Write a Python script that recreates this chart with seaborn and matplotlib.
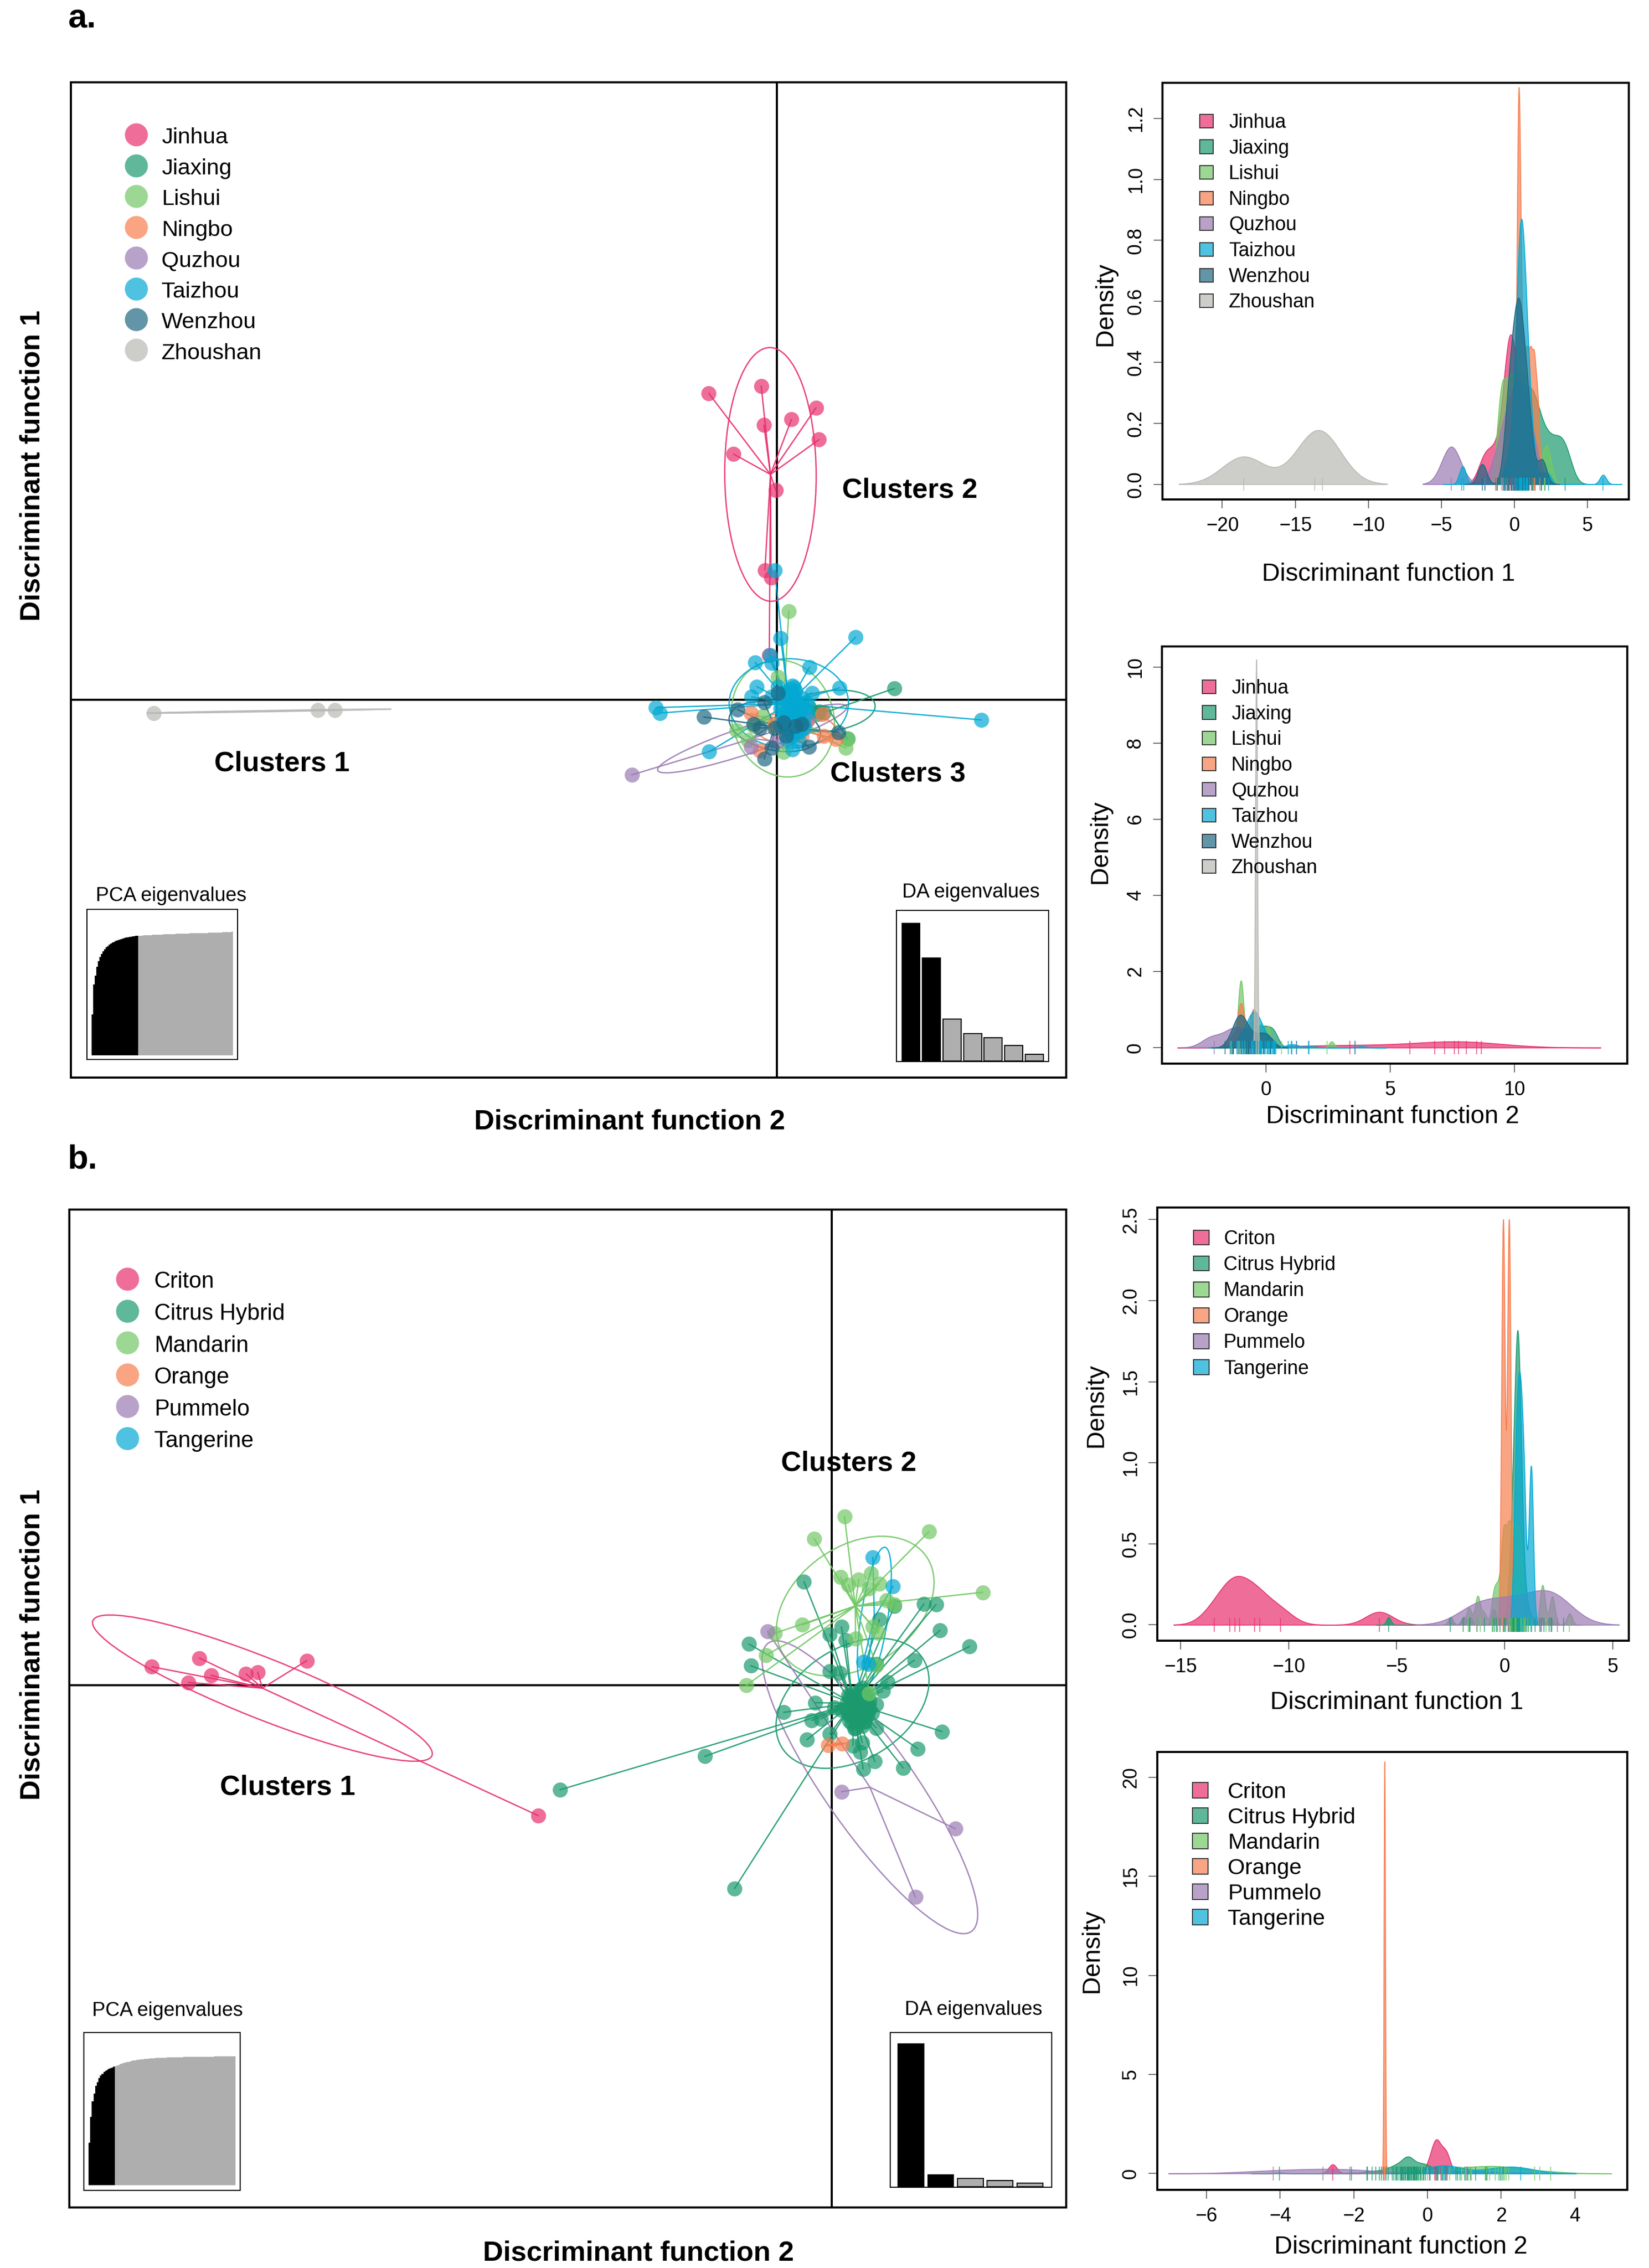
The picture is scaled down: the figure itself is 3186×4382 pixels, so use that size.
import numpy as np
import matplotlib
matplotlib.use("Agg")
import matplotlib.pyplot as plt
from matplotlib.lines import Line2D
from matplotlib.patches import Ellipse, Patch
from matplotlib.colors import to_rgba
import seaborn as sns

W, H = 3186, 4382

# panel a: scores on the two discriminant functions
JINHUA_X = [-2.03, -0.47, 1.16, 0.43, -0.39, 1.25, -1.29, -0.04, -0.36, -0.18, -0.23]
JINHUA_Y = [8.48, 8.68, 8.08, 7.76, 7.60, 7.20, 6.80, 5.80, 3.59, 3.38, 1.24]
JIAXING_X = [3.49, 2.10, 1.26, 0.95, 0.50, 1.40, 1.20]
JIAXING_Y = [0.32, -1.06, -0.32, -0.20, -0.10, -0.35, -0.40]
LISHUI_X = [0.35, -1.20, 2.10, 2.05, -0.87, 0.02, -0.43, 0.46, -0.07, -0.69, 0.19]
LISHUI_Y = [2.46, -0.84, -1.08, -1.33, -1.11, 0.64, -0.45, -1.00, -0.73, -0.73, -1.44]
NINGBO_X = [-0.78, 1.35, 1.39, 1.75, -0.51, 0.55, 0.19, -0.07, 0.73, 0.90]
NINGBO_Y = [-0.37, -0.40, -1.00, -1.08, -1.39, -0.73, -0.78, -0.67, -1.00, -0.56]
QUZHOU_X = [-4.32, -0.77, 0.00, 0.50, 0.90]
QUZHOU_Y = [-2.07, -1.30, -1.15, -0.25, -0.55]
TAIZHOU_X = [2.34, 0.11, 0.97, -0.65, -0.21, -0.16, -0.07, 1.86, -0.60, 1.04, -3.60, -3.48, 6.07, -2.02, -0.76,
             0.46, 0.28, 0.02, 0.81, 0.90, 0.46, 0.19, 0.37, 0.64, 0.81, -0.16, 0.55, 0.11, 0.28,
             0.30, 0.50, 0.10, 0.70, 0.40, 0.60, 0.20, 0.90, 0.35, 0.45, 0.55, 0.65, 0.25, 0.75, 0.15,
             0.80, 0.40, 0.50, 0.60, 0.30, 0.35, 0.50, 0.70, 0.20, 0.45, 0.55, 0.30, 0.60, 0.40, 0.65]
TAIZHOU_Y = [1.74, 1.71, 0.91, 1.04, 1.24, 1.02, 3.59, 0.34, 0.37, 0.20, -0.21, -0.36, -0.55, -1.43, 0.09,
             0.15, 0.20, 0.37, -0.24, -0.35, -1.36, -0.45, -0.18, -0.51, -0.78, 0.09, -0.02, -0.24, -0.67,
             -0.50, 0.10, -0.70, -0.60, 0.30, -0.90, 0.20, -0.10, -0.30, -1.00, 0.25, -0.40, -0.80, 0.05, -0.20,
             -0.65, -0.95, 0.35, -0.75, -0.55, 0.15, -0.25, -0.85, -0.45, 0.40, -0.60, -1.10, -0.15, -0.05, -1.15]
WENZHOU_X = [-2.18, -1.18, -0.38, 0.02, 1.83, 0.95, -0.38, -0.16, 0.28, -0.51, -0.07, 0.55, -0.69, 0.19, 0.73]
WENZHOU_Y = [-0.47, -0.26, -0.07, 0.20, -0.89, -1.30, -1.63, -1.33, -1.00, -0.78, -0.78, -0.73, -0.67, -0.62, -0.67]
ZHOUSHAN_X = [-18.53, -13.66, -13.15]
ZHOUSHAN_Y = [-0.36, -0.28, -0.28]

CITY_NAMES = ["Jinhua", "Jiaxing", "Lishui", "Ningbo", "Quzhou", "Taizhou", "Wenzhou", "Zhoushan"]
CITY_COLORS = ["#E7306E", "#1B9A6E", "#72C865", "#F77E4F", "#9B7BB3", "#03A9D3", "#1F6884", "#B8B9B4"]

# density components (position, mass)
D1_JIAXING_AT = [-0.5, 0.3, 1.0, 1.5, 2.1, 2.6, 3.1, 3.6]
D1_JIAXING_W = [0.07, 0.24, 0.20, 0.16, 0.10, 0.07, 0.09, 0.08]
D1_LISHUI_AT = [-0.9, -0.4, 0.0, 0.4, 0.8, 1.3, 2.1, 2.3]
D1_LISHUI_W = [0.20, 0.15, 0.15, 0.15, 0.15, 0.10, 0.05, 0.05]
D1_NINGBO_AT = [0.3, -0.1, 0.6, 0.85, 1.1, 1.35, 1.6]
D1_NINGBO_W = [0.37, 0.05, 0.10, 0.10, 0.10, 0.10, 0.07]
D1_TAIZHOU_AT = [-3.6, -3.48, 6.07, -0.6, -0.2, 0.1, 0.3, 0.45, 0.6, 0.8, 1.0, 1.3, 1.9, 2.34]
D1_TAIZHOU_W = [1, 1, 1, 1.5, 3, 6, 9, 10, 9, 8, 5, 3, 1, 1]
D1_WENZHOU_AT = [-2.2, -0.5, -0.2, 0.1, 0.3, 0.5, 0.8, 1.1, 1.9]
D1_WENZHOU_W = [1, 2, 3, 3, 3, 3, 2.5, 1.5, 1.2]

D2_JIAXING_AT = [-1.2, -0.8, -0.4, -0.05, 0.3]
D2_JIAXING_W = [0.2, 0.2, 0.2, 0.2, 0.2]
D2_LISHUI_AT = [-1.05, -0.95, -0.5, -0.2, 0.1, 2.65]
D2_LISHUI_W = [0.25, 0.25, 0.17, 0.15, 0.14, 0.04]
D2_NINGBO_AT = [-1.4, -1.0, -0.5, -0.2]
D2_NINGBO_W = [0.10, 0.43, 0.36, 0.10]
D2_QUZHOU_AT = [-2.2, -1.45, -1.1, -0.6]
D2_TAIZHOU_AT = [-1.3, -1.0, -0.8, -0.6, -0.45, -0.3, -0.1, 0.1, 0.3, 1.0, 1.25, 1.85, 3.85]
D2_TAIZHOU_W = [2, 5, 6, 10, 11, 9, 6, 3, 2, 2, 1, 1, 1]
D2_WENZHOU_AT = [-1.5, -1.25, -1.05, -0.85, -0.6, -0.3, -0.05, 0.2]
D2_WENZHOU_W = [0.05, 0.15, 0.20, 0.18, 0.10, 0.10, 0.10, 0.08]
D2_ZHOUSHAN_AT = [-0.40, -0.38, -0.37]

# panel b
CRITON_X = [-13.43, -12.71, -12.49, -12.26, -11.57, -11.34, -10.37, -5.80]
CRITON_Y = [0.37, 0.06, 0.54, 0.20, 0.23, 0.26, 0.49, -2.57]
HYBRID_X = [-0.55, 1.82, 2.06, 1.24, 0.94, 2.14, 2.72, 1.63, -1.64, -1.60, 0.88, 1.10, -0.04, 0.15, -0.04, 0.19,
            0.28, -0.95, -0.33, -0.40, -0.22, -0.49, -0.04, 0.42, 0.60, 0.56, 0.85, 0.62, 1.41, 1.70, 2.18, 1.01,
            0.88, 0.47, 0.51, 0.33, 0.19, 0.74, 0.88, 0.69, 0.51, 0.65, 0.42, 0.05, 0.33, -2.51, -1.92, -5.37,
            0.55, 0.60, 0.45, 0.70, 0.35, 0.62, 0.30,
            0.40, 0.50, 0.60, 0.70, 0.45, 0.55, 0.65, 0.35, 0.50, 0.60, 0.40, 0.55, 0.75, 0.30, 0.45,
            0.65, 0.50, 0.60, 0.70, 0.40, 0.80, 0.35, 0.55, 0.45, 0.65, 0.50, 0.60, 0.75, 0.40, 0.55]
HYBRID_Y = [2.05, 1.61, 1.60, 1.57, 1.30, 1.09, 0.77, 0.50, 0.82, 0.39, 0.42, 0.07, 0.28, 0.25, 1.01, 1.16,
            0.89, -0.53, -0.34, -0.69, -0.66, -1.07, -0.96, -1.19, -1.13, -1.31, -1.50, -1.65, -1.63, -1.25, -0.91, -0.11,
            -0.84, -0.84, -0.60, -0.55, -0.49, -0.49, -0.37, -0.31, -0.43, -0.72, -0.37, -0.43, -0.19, -1.40, -4.01, -2.06,
            -0.55, -0.40, -0.50, -0.60, -0.70, -0.25, -0.35,
            -0.30, -0.45, -0.60, -0.35, -0.55, -0.70, -0.50, -0.60, -0.20, -0.30, -0.75, -0.10, -0.45, -0.50, -0.40,
            -0.25, -0.65, -0.80, -0.20, -0.15, -0.55, -0.25, -0.35, -0.85, -0.70, -0.50, -0.05, -0.30, -0.60, -0.45]
MANDARIN_X = [0.25, -0.35, 1.92, 2.98, -1.30, -1.69, -0.58, -1.13, 0.17, 0.33, 0.53, 0.78, 0.94, 0.74, 1.08, 1.24,
              0.92, 0.47, 0.81, 0.74, 0.88]
MANDARIN_Y = [3.34, 2.90, 3.04, 1.84, 0.60, 0.00, 1.20, 1.03, 2.14, 1.99, 2.09, 2.21, 2.01, 1.92, 1.68, 1.60,
              1.04, 0.92, 1.16, -0.16, 0.39]
ORANGE_X = [-0.07, 0.20]
ORANGE_Y = [-1.18, -1.15]
PUMMELO_X = [-1.27, 0.19, 2.44, 1.65]
PUMMELO_Y = [1.07, -2.10, -2.83, -4.18]
TANGERINE_X = [0.81, 1.21, 0.62, 0.72]
TANGERINE_Y = [2.53, 1.96, 0.46, 0.42]

FRUIT_NAMES = ["Criton", "Citrus Hybrid", "Mandarin", "Orange", "Pummelo", "Tangerine"]
FRUIT_COLORS = ["#E7306E", "#1B9A6E", "#72C865", "#F77E4F", "#9B7BB3", "#03A9D3"]

B1_HYBRID_AT = [-5.37, -2.5, -1.9, -1.6, -0.5, 0.2, 0.35, 0.45, 0.55, 0.62, 0.7, 0.8, 0.9, 1.05, 1.25, 1.7, 2.1]
B1_HYBRID_W = [1, 1, 1, 1, 2, 4, 8, 11, 14, 14, 12, 7, 3, 2, 1, 1, 1]
B1_MANDARIN_AT = [-2.5, -1.65, -1.25, -0.95, -0.5, -0.3, -0.05, 0.2, 0.45, 0.7, 1.75, 2.2, 3.0]
B1_MANDARIN_W = [0.01, 0.03, 0.05, 0.02, 0.05, 0.05, 0.15, 0.15, 0.15, 0.15, 0.07, 0.05, 0.02]
B1_TANGERINE_AT = [0.50, 0.62, 0.75, 0.90, 1.22]
B1_TANGERINE_W = [0.15, 0.20, 0.22, 0.17, 0.24]
B2_HYBRID_AT = [-4.01, -2.06, -1.65, -1.4, -1.1, -0.85, -0.6, -0.45, -0.2, 0.0, 0.25, 0.5, 0.9, 1.3, 1.6, 2.05]
B2_HYBRID_W = [1, 1, 2, 3, 5, 9, 14, 13, 9, 8, 4, 3, 3, 2, 2, 1]
B2_ORANGE_AT = [-1.17, -1.16]

# inset bars
PCA_A_KEPT = [33, 57.5, 64.5, 71.5, 76.4, 79.7, 82, 84.2, 85.8, 87.4, 88.6, 89.6, 90.5, 91.2, 91.9, 92.6, 93.1, 93.5,
              94, 94.4, 94.8, 95.1, 95.4, 95.7, 95.9, 96.1, 96.2, 96.5, 96.6, 96.8]
PCA_A_DROPPED = [96.9, 97.0, 97.0, 97.1, 97.2, 97.2, 97.3, 97.4, 97.4, 97.5, 97.6, 97.6, 97.7, 97.7, 97.8, 97.8, 97.9,
                 97.9, 98.0, 98.0, 98.1, 98.1, 98.2, 98.2, 98.3, 98.3, 98.4, 98.4, 98.5, 98.5, 98.5, 98.6, 98.6, 98.7,
                 98.7, 98.8, 98.8, 98.8, 98.9, 98.9, 99.0, 99.0, 99.0, 99.1, 99.1, 99.2, 99.2, 99.2, 99.3, 99.3, 99.4,
                 99.4, 99.5, 99.5, 99.6, 99.6, 99.7, 99.8, 99.8, 99.9, 100]
PCA_B_KEPT = [33, 53, 65, 71, 77, 80, 83, 85, 86.5, 87.8, 88.6, 89.5, 90.2, 90.8, 91.3, 91.8]
PCA_B_DROPPED = [92.2, 92.8, 93.3, 93.8, 94.3, 94.7, 95.1, 95.5, 95.8, 96.1, 96.4, 96.7, 96.9, 97.1, 97.3, 97.5, 97.7,
                 97.8, 98.0, 98.1, 98.2, 98.3, 98.4, 98.5, 98.6, 98.7, 98.75, 98.8, 98.85, 98.9, 98.95, 99.0, 99.05,
                 99.1, 99.15, 99.2, 99.25, 99.3, 99.3, 99.35, 99.4, 99.4, 99.45, 99.45, 99.5, 99.5, 99.55, 99.55, 99.6,
                 99.6, 99.6, 99.65, 99.65, 99.7, 99.7, 99.7, 99.75, 99.75, 99.8, 99.8, 99.8, 99.85, 99.85, 99.85, 99.9,
                 99.9, 99.9, 99.9, 99.95, 99.95, 99.95, 100, 100, 100]
DA_A_KEPT = [798, 597]
DA_A_DROPPED = [245, 160, 135, 92, 40]
DA_B_KEPT = [828, 70]
DA_B_DROPPED = [48, 37, 20]

sns.set_theme(style="ticks")
plt.rcParams["font.family"] = ["Liberation Sans", "DejaVu Sans"]
plt.rcParams["text.color"] = "black"

fig = plt.figure(figsize=(W / 100, H / 100), dpi=100, facecolor="white")


def axes_px(left, top, right, bottom):
    return fig.add_axes([left / W, 1 - bottom / H, (right - left) / W, (bottom - top) / H])


def text_px(x, y, s, **kw):
    fig.text(x / W, 1 - y / H, s, **kw)


def frame(ax, lw=2.9):
    for sp in ax.spines.values():
        sp.set_visible(True)
        sp.set_linewidth(lw)
        sp.set_color("black")


def scatter_panel(box, xlim, ylim, groups, colors):
    ax = axes_px(*box)
    ax.axhline(0, color="black", lw=2.9, zorder=0.5)
    ax.axvline(0, color="black", lw=2.9, zorder=0.5)
    for (xs, ys), color in zip(groups, colors):
        xs, ys = np.array(xs), np.array(ys)
        cx, cy = xs.mean(), ys.mean()
        vals, vecs = np.linalg.eigh(np.cov(xs, ys, bias=True))
        angle = np.degrees(np.arctan2(vecs[1, 1], vecs[0, 1]))
        ax.add_patch(Ellipse((cx, cy), 3 * np.sqrt(vals[1]), 3 * np.sqrt(max(vals[0], 1e-4)), angle=angle,
                             fill=False, edgecolor=color, lw=1.9, alpha=0.9, zorder=1))
        for x, y in zip(xs, ys):
            ax.plot([cx, x], [cy, y], color=color, lw=1.9, alpha=0.9, zorder=1.5)
        sns.scatterplot(x=xs, y=ys, color=color, s=440, alpha=0.7, linewidth=0, legend=False, ax=ax, zorder=2)
    ax.set_xlim(*xlim)
    ax.set_ylim(*ylim)
    ax.set_xticks([])
    ax.set_yticks([])
    frame(ax)
    return ax


def density_panel(box, xlim, ylim, curves, rugs, colors, xticks, yticks, yfmt):
    ax = axes_px(*box)
    for (values, weights, bw), color in zip(curves, colors):
        values = np.array(values, dtype=float)
        w = np.ones(len(values)) if weights is None else np.array(weights, dtype=float)
        w = w / w.sum()
        sd = np.sqrt(np.cov(values, aweights=w))
        sns.kdeplot(x=values, weights=w, bw_method=bw / sd, fill=True, color=color, alpha=0.7,
                    linewidth=1.2, gridsize=1500, cut=3, ax=ax)
    span = ylim[1] - ylim[0]
    for values, color in zip(rugs, colors):
        ax.vlines(values, -0.016 * span, 0.016 * span, color=color, lw=1.6, alpha=0.65)
    ax.set_xlim(*xlim)
    ax.set_ylim(*ylim)
    ax.set_xlabel("")
    ax.set_ylabel("")
    ax.set_xticks(xticks)
    ax.set_yticks(yticks)
    ax.set_yticklabels([yfmt.format(v) for v in yticks], rotation=90, va="center")
    ax.tick_params(axis="both", length=12, width=1.1, color="#444444", labelsize=27, pad=12, labelcolor="black")
    frame(ax)
    return ax


def inset_bars(box, kept, dropped, xlim, ylim, width, lw):
    ax = axes_px(*box)
    vals = list(kept) + list(dropped)
    kind = ["kept"] * len(kept) + ["dropped"] * len(dropped)
    sns.barplot(x=list(range(len(vals))), y=vals, hue=kind, palette={"kept": "black", "dropped": "#AEAEAE"},
                width=width, dodge=False, saturation=1, legend=False, ax=ax,
                edgecolor="black" if lw else "none", linewidth=lw, antialiased=bool(lw))
    ax.set_xlim(*xlim)
    ax.set_ylim(*ylim)
    ax.set_xticks([])
    ax.set_yticks([])
    ax.set_xlabel("")
    ax.set_ylabel("")
    frame(ax, lw=1.5)
    ax.set_facecolor("white")
    return ax


def circle_legend(ax, names, colors, x_px, y_px, spacing, fontsize):
    handles = [Line2D([], [], marker="o", linestyle="", markersize=32, markeredgewidth=0,
                      markerfacecolor=to_rgba(c, 0.7)) for c in colors]
    box = ax.get_position()
    fx = (x_px / W - box.x0) / box.width
    fy = ((1 - y_px / H) - box.y0) / box.height
    fp = fontsize / 0.72
    ax.legend(handles, names, loc="upper left", bbox_to_anchor=(fx, fy), frameon=False, fontsize=fontsize,
              borderpad=0, borderaxespad=0, handlelength=45 / fp, handleheight=1,
              handletextpad=(spacing[1] - 23) / fp, labelspacing=(spacing[0] - fp * 0.97) / fp)


def square_legend(ax, names, colors, x_px, y_px, spacing, fontsize, side):
    handles = [Patch(facecolor=to_rgba(c, 0.7), edgecolor="#333333", linewidth=1.4) for c in colors]
    box = ax.get_position()
    fx = (x_px / W - box.x0) / box.width
    fy = ((1 - y_px / H) - box.y0) / box.height
    fp = fontsize / 0.72
    ax.legend(handles, names, loc="upper left", bbox_to_anchor=(fx, fy), frameon=False, fontsize=fontsize,
              borderpad=0, borderaxespad=0, handlelength=side / fp, handleheight=side / fp,
              handletextpad=spacing[1] / fp, labelspacing=(spacing[0] - fp * 0.97) / fp)


# panel a, main
a_groups = [(JINHUA_X, JINHUA_Y), (JIAXING_X, JIAXING_Y), (LISHUI_X, LISHUI_Y), (NINGBO_X, NINGBO_Y),
            (QUZHOU_X, QUZHOU_Y), (TAIZHOU_X, TAIZHOU_Y), (WENZHOU_X, WENZHOU_Y), (ZHOUSHAN_X, ZHOUSHAN_Y)]
ax_a = scatter_panel((137, 159, 2060, 2082), (-21.0, 8.6), (-10.44, 17.08), a_groups, CITY_COLORS)
circle_legend(ax_a, CITY_NAMES, CITY_COLORS, 240, 243, (58.3, 50), 31.3)

# panel a, densities
d1_curves = [(JINHUA_X, None, 0.45), (D1_JIAXING_AT, D1_JIAXING_W, 0.45), (D1_LISHUI_AT, D1_LISHUI_W, 0.3),
             (D1_NINGBO_AT, D1_NINGBO_W, 0.13), (QUZHOU_X, None, 0.65), (D1_TAIZHOU_AT, D1_TAIZHOU_W, 0.22),
             (D1_WENZHOU_AT, D1_WENZHOU_W, 0.3), (ZHOUSHAN_X, None, 1.48)]
ax_d1 = density_panel((2246, 160, 3147, 965), (-24.09, 7.83), (-0.05, 1.317), d1_curves,
                      [g[0] for g in a_groups], CITY_COLORS, [-20, -15, -10, -5, 0, 5],
                      [0, 0.2, 0.4, 0.6, 0.8, 1.0, 1.2], "{:.1f}")
square_legend(ax_d1, CITY_NAMES, CITY_COLORS, 2318, 219, (50, 30), 27, 26)

d2_curves = [(JINHUA_Y, None, 1.6), (D2_JIAXING_AT, D2_JIAXING_W, 0.2), (D2_LISHUI_AT, D2_LISHUI_W, 0.1),
             (D2_NINGBO_AT, D2_NINGBO_W, 0.15), (D2_QUZHOU_AT, None, 0.4), (D2_TAIZHOU_AT, D2_TAIZHOU_W, 0.2),
             (D2_WENZHOU_AT, D2_WENZHOU_W, 0.2), (D2_ZHOUSHAN_AT, None, 0.037)]
ax_d2 = density_panel((2245, 1249, 3144, 2055), (-4.18, 14.55), (-0.42, 10.54), d2_curves,
                      [g[1] for g in a_groups], CITY_COLORS, [0, 5, 10], [0, 2, 4, 6, 8, 10], "{:d}")
square_legend(ax_d2, CITY_NAMES, CITY_COLORS, 2323, 1312, (50, 30), 27, 26)

# panel b, main
b_groups = [(CRITON_X, CRITON_Y), (HYBRID_X, HYBRID_Y), (MANDARIN_X, MANDARIN_Y), (ORANGE_X, ORANGE_Y),
            (PUMMELO_X, PUMMELO_Y), (TANGERINE_X, TANGERINE_Y)]
ax_b = scatter_panel((134, 2337, 2060, 4265), (-15.06, 4.63), (-10.31, 9.4), b_groups, FRUIT_COLORS)
circle_legend(ax_b, FRUIT_NAMES, FRUIT_COLORS, 223, 2454, (60.4, 53), 31.4)

# panel b, densities
b1_curves = [(CRITON_X, None, 0.63), (B1_HYBRID_AT, B1_HYBRID_W, 0.1), (B1_MANDARIN_AT, B1_MANDARIN_W, 0.12),
             (ORANGE_X, None, 0.08), (PUMMELO_X, None, 0.95), (B1_TANGERINE_AT, B1_TANGERINE_W, 0.1)]
ax_b1 = density_panel((2236, 2333, 3147, 3170), (-16.07, 5.74), (-0.098, 2.575), b1_curves,
                      [g[0] for g in b_groups], FRUIT_COLORS, [-15, -10, -5, 0, 5],
                      [0, 0.5, 1.0, 1.5, 2.0, 2.5], "{:.1f}")
square_legend(ax_b1, FRUIT_NAMES, FRUIT_COLORS, 2306, 2376, (50.5, 28), 27, 30)

b2_curves = [(CRITON_Y, None, 0.11), (B2_HYBRID_AT, B2_HYBRID_W, 0.15), (MANDARIN_Y, None, 0.55),
             (B2_ORANGE_AT, None, 0.0185), (PUMMELO_Y, None, 0.95), (TANGERINE_Y, None, 0.5)]
ax_b2 = density_panel((2236, 3385, 3144, 4231), (-7.33, 5.42), (-0.83, 21.28), b2_curves,
                      [g[1] for g in b_groups], FRUIT_COLORS, [-6, -4, -2, 0, 2, 4], [0, 5, 10, 15, 20], "{:d}")
square_legend(ax_b2, FRUIT_NAMES, FRUIT_COLORS, 2304, 3443, (50.4, 38), 30.8, 30)

# eigenvalue insets
n_a = len(PCA_A_KEPT) + len(PCA_A_DROPPED)
inset_bars((168, 1757, 459, 2047), PCA_A_KEPT, PCA_A_DROPPED, (-3.47, n_a + 2.5), (-3.5, 118.2), 1, 0)
n_b = len(PCA_B_KEPT) + len(PCA_B_DROPPED)
inset_bars((162, 3927, 464, 4232), PCA_B_KEPT, PCA_B_DROPPED, (-3.4, n_b + 2.4), (-4, 118.5), 1, 0)
inset_bars((1732, 1759, 2026, 2051), DA_A_KEPT, DA_A_DROPPED, (-0.706, 6.70), (-2, 874), 0.88, 1.5)
inset_bars((1720, 3927, 2032, 4226), DA_B_KEPT, DA_B_DROPPED, (-0.70, 4.74), (-3, 895), 0.87, 1.5)

text_px(185, 1741, "PCA eigenvalues", fontsize=27.5)
text_px(178, 3895, "PCA eigenvalues", fontsize=27.5)
text_px(1743, 1734, "DA eigenvalues", fontsize=27.5)
text_px(1748, 3893, "DA eigenvalues", fontsize=27.5)

# bold labels
text_px(131, 53, "a.", fontsize=47, fontweight="bold")
text_px(131, 2258, "b.", fontsize=47, fontweight="bold")
bold = dict(fontsize=39, fontweight="bold")
text_px(1216, 2181, "Discriminant function 2", ha="center", **bold)
text_px(1233, 4367, "Discriminant function 2", ha="center", **bold)
text_px(63, 900, "Discriminant function 1", rotation=90, ha="center", va="center", **bold)
text_px(63, 3178, "Discriminant function 1", rotation=90, ha="center", va="center", **bold)
text_px(1627, 961, "Clusters 2", **bold)
text_px(414, 1490, "Clusters 1", **bold)
text_px(1604, 1510, "Clusters 3", **bold)
text_px(1509, 2842, "Clusters 2", **bold)
text_px(425, 3467, "Clusters 1", **bold)

# side panel labels
plain = dict(fontsize=34.8)
text_px(2683, 1122, "Discriminant function 1", ha="center", **plain)
text_px(2691, 2170, "Discriminant function 2", ha="center", **plain)
text_px(2699, 3302, "Discriminant function 1", ha="center", **plain)
text_px(2707, 4354, "Discriminant function 2", ha="center", **plain)
text_px(2136, 587, "Density", rotation=90, ha="center", va="center", **plain)
text_px(2126, 1626, "Density", rotation=90, ha="center", va="center", **plain)
text_px(2117, 2715, "Density", rotation=90, ha="center", va="center", **plain)
text_px(2110, 3769, "Density", rotation=90, ha="center", va="center", **plain)

fig.savefig("out.png", dpi=100, facecolor="white")
